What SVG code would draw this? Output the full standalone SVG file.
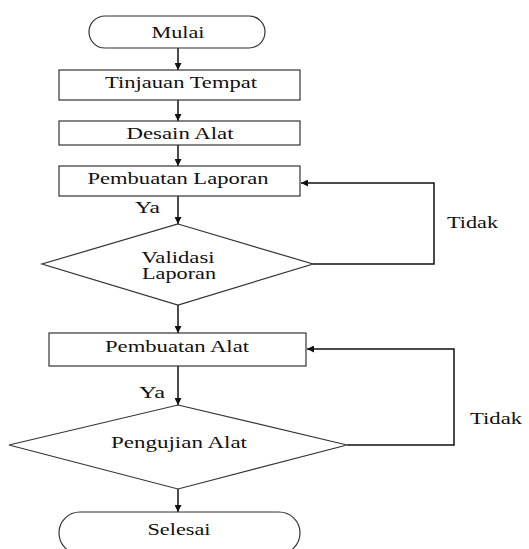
<svg xmlns="http://www.w3.org/2000/svg" width="529" height="549" viewBox="0 0 529 549">
<style>
.s{fill:#fff;stroke:#333;stroke-width:1.2}
.t{font-family:"Liberation Serif","Times New Roman",serif;font-size:16px;fill:#111;text-anchor:middle}
.l{font-family:"Liberation Serif","Times New Roman",serif;font-size:16px;fill:#111}
.c{fill:none;stroke:#111;stroke-width:1.5}
</style>
<defs>
<marker id="b" viewBox="0 0 8 8" refX="8" refY="4" markerWidth="7" markerHeight="7" markerUnits="userSpaceOnUse" orient="auto">
<path d="M0,0 L8,4 L0,8 Z" fill="#111"/>
</marker>
</defs>
<rect width="529" height="549" fill="#fff"/>
<g id="connectors">
<line class="c" x1="178" y1="48" x2="178" y2="70" marker-end="url(#b)"/>
<line class="c" x1="178" y1="100" x2="178" y2="121" marker-end="url(#b)"/>
<line class="c" x1="178" y1="145" x2="178" y2="166" marker-end="url(#b)"/>
<line class="c" x1="178" y1="196" x2="178" y2="224" marker-end="url(#b)"/>
<line class="c" x1="178" y1="305" x2="178" y2="333" marker-end="url(#b)"/>
<line class="c" x1="178" y1="366" x2="178" y2="405" marker-end="url(#b)"/>
<line class="c" x1="178" y1="489" x2="178" y2="512" marker-end="url(#b)"/>
<polyline class="c" points="313,264 434,264 434,183 301,183" marker-end="url(#b)"/>
<polyline class="c" points="347,445 454,445 454,349 307,349" marker-end="url(#b)"/>
<text class="l" x="135" y="213" textLength="25" lengthAdjust="spacingAndGlyphs">Ya</text>
<text class="l" x="447" y="228" textLength="51" lengthAdjust="spacingAndGlyphs">Tidak</text>
<text class="l" x="139" y="398" textLength="26" lengthAdjust="spacingAndGlyphs">Ya</text>
<text class="l" x="470" y="424" textLength="52" lengthAdjust="spacingAndGlyphs">Tidak</text>
</g>
<g id="mulai">
<rect class="s" x="89" y="16" width="176" height="32" rx="16" ry="16"/>
<text class="t" x="178" y="38" textLength="53" lengthAdjust="spacingAndGlyphs">Mulai</text>
</g>
<g id="tinjauan">
<rect class="s" x="59" y="70" width="241" height="30"/>
<text class="t" x="181" y="88" textLength="152" lengthAdjust="spacingAndGlyphs">Tinjauan Tempat</text>
</g>
<g id="desain">
<rect class="s" x="59" y="121" width="241" height="24"/>
<text class="t" x="180" y="139" textLength="107" lengthAdjust="spacingAndGlyphs">Desain Alat</text>
</g>
<g id="pembuatan-laporan">
<rect class="s" x="59" y="166" width="241" height="30"/>
<text class="t" x="178" y="184" textLength="181" lengthAdjust="spacingAndGlyphs">Pembuatan Laporan</text>
</g>
<g id="validasi">
<polygon class="s" points="178,224 313,264 178,305 42,264"/>
<text class="t" x="178" y="263" textLength="73" lengthAdjust="spacingAndGlyphs">Validasi</text>
<text class="t" x="179" y="279" textLength="74" lengthAdjust="spacingAndGlyphs">Laporan</text>
</g>
<g id="pembuatan-alat">
<rect class="s" x="49" y="333" width="257" height="33"/>
<text class="t" x="177" y="352" textLength="144" lengthAdjust="spacingAndGlyphs">Pembuatan Alat</text>
</g>
<g id="pengujian">
<polygon class="s" points="178,405 347,445 178,489 9,445"/>
<text class="t" x="179" y="448" textLength="136" lengthAdjust="spacingAndGlyphs">Pengujian Alat</text>
</g>
<g id="selesai">
<rect class="s" x="59" y="512" width="241" height="42" rx="21" ry="21"/>
<text class="t" x="179" y="535" textLength="63" lengthAdjust="spacingAndGlyphs">Selesai</text>
</g>
</svg>
